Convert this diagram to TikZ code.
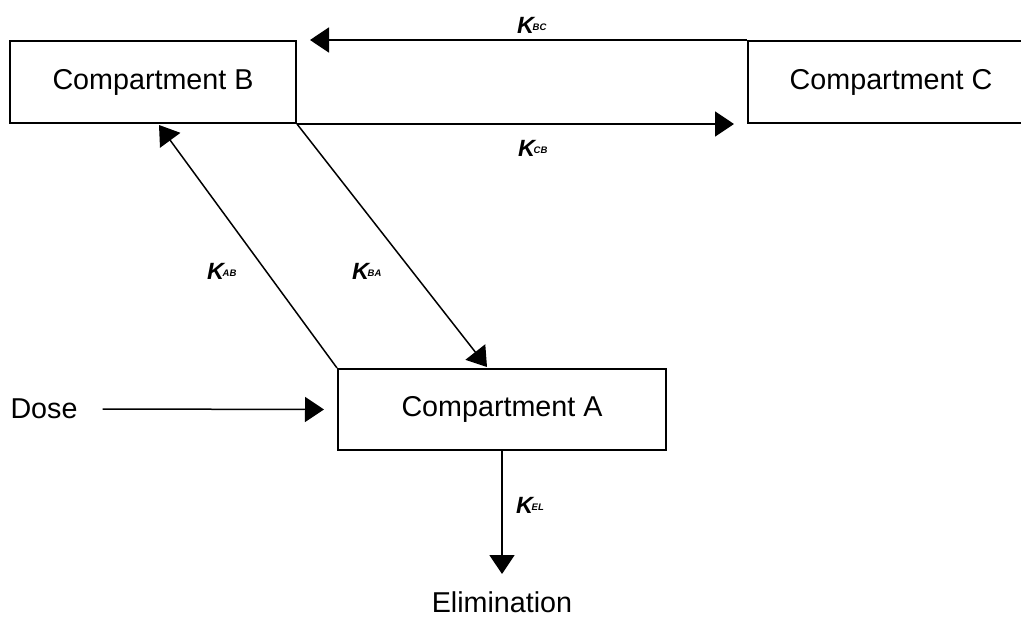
\documentclass[tikz,border=0pt]{standalone}
\usepackage{fontspec}
\setmainfont{Liberation Sans}
\usetikzlibrary{arrows.meta,calc}
\newcommand\klab[1]{{\fontsize{23.5}{24}\selectfont\bfseries\itshape K}\kern-1.5pt\raisebox{2.5pt}{\fontsize{9.5}{10}\selectfont\bfseries\itshape #1}}
\tikzset{
  comp/.style={draw, line width=2pt, minimum width=286pt, minimum height=82pt, inner sep=0pt, font=\fontsize{28.7}{32}\selectfont},
  plain/.style={inner sep=0pt, font=\fontsize{28.7}{32}\selectfont},
  arr/.style={line width=2pt, -{Triangle[length=19pt,width=25pt]}},
  darr/.style={line width=1.5pt, -{Triangle[length=19pt,width=25pt]}},
  klabel/.style={inner sep=0pt, anchor=base west}
}
\begin{document}
\begin{tikzpicture}[x=1pt,y=-1pt]
\useasboundingbox (0,0) rectangle (1021,624);
\clip (0,0) rectangle (1021,624);
\fill[white] (0,0) rectangle (1021,624);
\node[comp] (B) at (153,82) {Compartment B};
\node[comp] (C) at (891,82) {Compartment C};
\node[comp, minimum width=328pt, minimum height=81pt] (A) at (502,409.5) {Compartment A};
\node[plain] (dose) at (44,409) {Dose};
\node[plain] (elim) at (502,602) {Elimination};
\coordinate (tipBC) at ($(B.north east)+(13,0)$);
\coordinate (tipAB) at ($(B.south)+(6,1)$);
\coordinate (tipBA) at ($(A.north)+(-15,-1)$);
\draw[arr] (C.north west) -- (tipBC);
\draw[arr, shorten >=13pt] (B.south east) -- (C.south west);
\draw[darr] (A.north west) -- (tipAB);
\draw[darr] (B.south east) -- (tipBA);
\draw[darr] ($(dose.east)+(25,0)$) -- ($(A.west)+(-13,0)$);
\draw[darr] (A.south) -- ($(A.south)+(0,123)$);
\node[klabel] (kbc) at (517,33) {\klab{BC}};
\node[klabel] (kcb) at (518,156) {\klab{CB}};
\node[klabel] (kab) at (207,279) {\klab{AB}};
\node[klabel] (kba) at (352,279) {\klab{BA}};
\node[klabel] (kel) at (516,513) {\klab{EL}};
\end{tikzpicture}
\end{document}
